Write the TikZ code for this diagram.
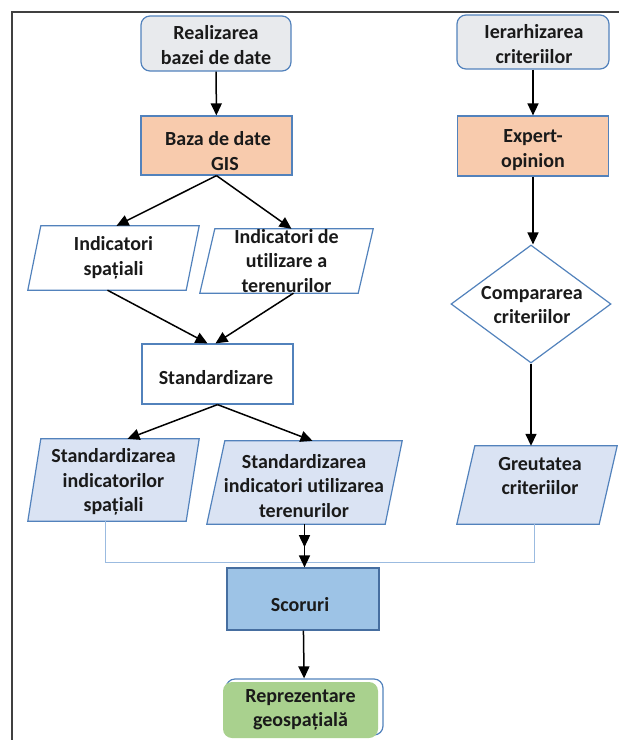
\documentclass[tikz,border=0pt]{standalone}
\usepackage{fontspec}
\setmainfont{Carlito}[Ligatures=NoCommon]
\usetikzlibrary{shapes.geometric,arrows.meta,calc,backgrounds}
\definecolor{bord}{HTML}{5282BC}
\definecolor{greyfill}{HTML}{E8EAED}
\definecolor{peach}{HTML}{F8CBAD}
\definecolor{lblue}{HTML}{DAE3F3}
\definecolor{mblue}{HTML}{9DC3E6}
\definecolor{mygreen}{HTML}{A9D18E}
\definecolor{linkblue}{HTML}{9BBBE0}
\definecolor{txtc}{HTML}{1A1A1A}
\definecolor{framec}{HTML}{404040}
\begin{document}
\begin{tikzpicture}[x=1pt,y=-1pt,
  font=\bfseries\fontsize{20}{24.5}\selectfont,
  box/.style={draw=bord, line width=1.2pt, align=center, inner sep=0pt, text=txtc},
  rbox/.style={box, rounded corners=9pt},
  pnode/.style={rectangle, draw=none, align=center, inner sep=0pt, text=txtc},
  txt/.style={align=center, inner sep=0pt, text=txtc},
  pshape/.style={draw=bord, line width=1.2pt},
  arr/.style={line width=1.5pt, draw=black, -{Triangle[length=12pt,width=11pt]}},
  conn/.style={draw=linkblue, line width=1pt}]
\useasboundingbox (0,0) rectangle (619,740);
\draw[framec, line width=1.6pt] (12,760) -- (12,12) -- (640,12);

% left column
\node[rbox, fill=greyfill, minimum width=150pt, minimum height=55pt] (real) at (216,43.5) {};
\node[txt] (realt) at (216,45) {Realizarea\\bazei de date};
\node[box, fill=peach, minimum width=151pt, minimum height=59pt] (baza) at (216.5,145.5) {};
\node[txt] (bazat) at (218,151) {Baza de date\\\hspace*{0.7em}GIS};
\node[pnode, minimum width=171pt, minimum height=64pt] (ind1) at (113.5,258) {Indicatori\\spațiali};
\node[pnode, minimum width=173pt, minimum height=64pt] (ind2) at (286.5,261) {Indicatori de\\utilizare a\\terenurilor};
\node[box, fill=white, minimum width=151pt, minimum height=60pt] (std) at (217.5,374) {};
\node[txt] (stdt) at (216,378) {Standardizare};
\node[pnode, minimum width=171pt, minimum height=82pt] (stdA) at (113.5,480) {};
\node[txt] (stdAt) at (113.5,482) {Standardizarea\\indicatorilor\\spațiali};
\node[pnode, minimum width=195pt, minimum height=83pt] (stdB) at (304.5,482.5) {};
\node[txt] (stdBt) at (304,486) {Standardizarea\\indicatori utilizarea\\terenurilor};

% right column
\node[rbox, fill=greyfill, minimum width=152pt, minimum height=54pt] (ier) at (533,42) {};
\node[txt] (iert) at (534,44) {Ierarhizarea\\criteriilor};
\node[box, fill=peach, minimum width=151pt, minimum height=60pt] (exp) at (533,146) {};
\node[txt] (expt) at (533,150) {Expert-\\opinion};
\node[diamond, draw=bord, line width=1.2pt, fill=white, minimum width=160pt, minimum height=118pt, inner sep=0pt] (comp) at (531,304) {};
\node[txt] (compt) at (532,305) {Compararea\\criteriilor};
\node[pnode, minimum width=160pt, minimum height=78pt] (greut) at (537,485) {};
\node[txt] (greutt) at (540,476) {Greutatea\\criteriilor};

% bottom
\node[box, fill=mblue, draw=bord!85!black, minimum width=152pt, minimum height=62pt] (scor) at (303,599) {};
\node[txt] (scort) at (300,605) {Scoruri};
\node[draw=bord, line width=1.2pt, rounded corners=9pt, minimum width=157pt, minimum height=56pt, inner sep=0pt] (reprb) at (304.5,707) {};
\node[fill=mygreen, rounded corners=9pt, minimum width=155pt, minimum height=56pt, inner sep=0pt] (repr) at (300.5,710) {};
\node[txt] (reprt) at (300.5,710) {Reprezentare\\geospațială};

% parallelogram outlines
\begin{scope}[on background layer]
  \path[pshape, fill=white] (ind1.south west) -- ($(ind1.south east)+(-13,0)$) -- (ind1.north east) -- ($(ind1.north west)+(13,0)$) -- cycle;
  \path[pshape, fill=white] (ind2.south west) -- ($(ind2.south east)+(-15,0)$) -- (ind2.north east) -- ($(ind2.north west)+(15,0)$) -- cycle;
  \path[pshape, fill=lblue] (stdA.south west) -- ($(stdA.south east)+(-13,0)$) -- (stdA.north east) -- ($(stdA.north west)+(13,0)$) -- cycle;
  \path[pshape, fill=lblue] (stdB.south west) -- ($(stdB.south east)+(-17,0)$) -- (stdB.north east) -- ($(stdB.north west)+(18,0)$) -- cycle;
  \path[pshape, fill=lblue] (greut.south west) -- ($(greut.south east)+(-18,0)$) -- (greut.north east) -- ($(greut.north west)+(18,0)$) -- cycle;
\end{scope}

% connectors
\draw[arr] (real) -- (baza);
\draw[arr] (ier) -- (exp);
\draw[arr] (baza.south) -- ($(ind1.north)+(3,0)$);
\draw[arr] (baza.south) -- ($(ind2.north)+(5,0)$);
\draw[arr] ($(ind1.south)+(-6,0)$) -- ($(std.north)+(-10,0)$);
\draw[arr] ($(ind2.south)+(7,0)$) -- ($(std.north)+(-2,0)$);
\draw[arr] (std.south) -- ($(stdA.north)+(14,0)$);
\draw[arr] (std.south) -- ($(stdB.north)+(8,0)$);
\draw[arr] (exp) -- (exp |- comp.north);
\draw[arr] (comp.south) -- (comp.south |- greut.north);
\draw[conn] ($(stdA.south)+(-8,0)$) -- ++(0,41) -| ($(greut.south)+(-3,0)$);
\draw[arr] (stdB.south) -- ++(0,23);
\draw[arr] ($(stdB.south)+(0,20)$) -- (stdB.south |- scor.north);
\draw[arr] (scor) -- (reprb);
\end{tikzpicture}
\end{document}
